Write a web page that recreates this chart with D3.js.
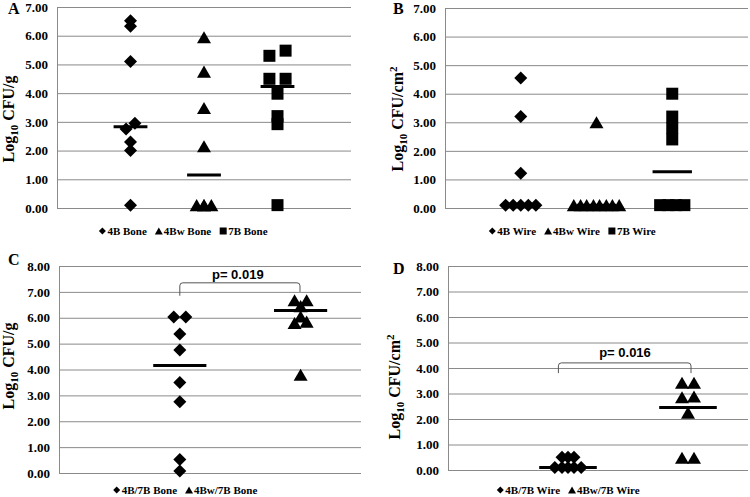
<!DOCTYPE html>
<html>
<head>
<meta charset="utf-8">
<script src="https://cdn.jsdelivr.net/npm/d3@7"></script>
<style>
body { margin: 0; background: #fff; }
svg { display: block; font-family: "Liberation Serif", "Times New Roman", serif; }
</style>
</head>
<body>
<script>
// A: bone counts (log10 CFU/g), x = group position with small spread
var bone4B = [[1, 6.52], [1, 6.33], [1, 5.1], [1.06, 2.95], [0.94, 2.75], [1, 2.3], [1, 2.0], [1, 0.1]];
var bone4Bw = [[2, 5.95], [2, 4.75], [2, 3.48], [2, 2.15], [1.9, 0.1], [2, 0.1], [2, 0.1], [2.1, 0.1]];
var bone7B = [[2.89, 5.3], [3.11, 5.48], [2.89, 4.5], [3.11, 4.5], [3, 3.98], [3, 3.2], [3, 2.92], [3, 0.1]];
var boneMedians = [2.83, 1.15, 4.23];
var boneLegend = ["4B Bone", "4Bw Bone", "7B Bone"];

// B: wire counts (log10 CFU/cm2)
var wire4B = [[1, 4.55], [1, 3.2], [1, 1.22], [0.8, 0.1], [0.9, 0.1], [1, 0.1], [1.1, 0.1], [1.2, 0.1]];
var wire4Bw = [[2, 3.0], [1.7, 0.1], [1.79, 0.1], [1.87, 0.1], [1.96, 0.1], [2.04, 0.1], [2.13, 0.1], [2.21, 0.1], [2.3, 0.1]];
var wire7B = [[3, 4.0], [3, 3.2], [3, 2.8], [3, 2.4], [2.84, 0.1], [2.95, 0.1], [3.05, 0.1], [3.16, 0.1]];
var wireMedians = [0.1, 0.1, 1.27];
var wireLegend = ["4B Wire", "4Bw Wire", "7B Wire"];

// C: co-infection bone
var bone4B7B = [[0.95, 6.03], [1.05, 6.03], [1, 5.37], [1, 4.75], [1, 3.5], [1, 2.75], [1, 0.52], [1, 0.08]];
var bone4Bw7B = [[1.95, 6.68], [2.05, 6.68], [2, 6.45], [2, 6.05], [1.95, 5.8], [2.05, 5.85], [2, 3.8]];
var coBoneMedians = [4.15, 6.28];
var coBoneLegend = ["4B/7B Bone", "4Bw/7B Bone"];

// D: co-infection wire
var wire4B7B = [[0.95, 0.5], [1, 0.5], [1.05, 0.5], [0.89, 0.1], [0.95, 0.1], [1, 0.1], [1.05, 0.1], [1.11, 0.1]];
var wire4Bw7B = [[1.95, 3.42], [2.05, 3.42], [1.95, 2.85], [2.05, 2.88], [2, 2.25], [1.95, 0.48], [2.05, 0.48]];
var coWireMedians = [0.1, 2.45];
var coWireLegend = ["4B/7B Wire", "4Bw/7B Wire"];

var ticks7 = [0, 1, 2, 3, 4, 5, 6, 7];
var ticks8 = [0, 1, 2, 3, 4, 5, 6, 7, 8];
var pValueC = "p= 0.019";
var pValueD = "p= 0.016";

var svg = d3.select('body').append('svg')
    .attr('width', 750)
    .attr('height', 497);

var markerSize = { diamond: 6.5, triangle: 7, square: 6 };

function markerPath(shape, s) {
    if (shape === 'diamond') return 'M0,' + (-s) + 'L' + s + ',0L0,' + s + 'L' + (-s) + ',0Z';
    if (shape === 'triangle') return 'M0,' + (-s * 0.86) + 'L' + s + ',' + (s * 0.86) + 'L' + (-s) + ',' + (s * 0.86) + 'Z';
    return 'M' + (-s) + ',' + (-s) + 'H' + s + 'V' + s + 'H' + (-s) + 'Z';
}

var panels = [
    { letter: 'A', letterX: 8, letterY: 14, series: [bone4B, bone4Bw, bone7B], shapes: ['diamond', 'triangle', 'square'],
      medians: boneMedians, legend: boneLegend, ticks: ticks7, xMax: 4, yMax: 7,
      left: 57, right: 351, top: 7, bottom: 208, half: 0.23,
      title: 'g', titleX: 14, titleY: 119, legendX: 183, legendY: 231 },
    { letter: 'B', letterX: 393, letterY: 14, series: [wire4B, wire4Bw, wire7B], shapes: ['diamond', 'triangle', 'square'],
      medians: wireMedians, legend: wireLegend, ticks: ticks7, xMax: 4, yMax: 7,
      left: 445, right: 748, top: 8, bottom: 208, half: 0.26,
      title: 'cm2', titleX: 403, titleY: 119, legendX: 572, legendY: 231 },
    { letter: 'C', letterX: 8, letterY: 265, series: [bone4B7B, bone4Bw7B], shapes: ['diamond', 'triangle'],
      medians: coBoneMedians, legend: coBoneLegend, ticks: ticks8, xMax: 2.5, yMax: 8,
      left: 59, right: 361, top: 266, bottom: 473, half: 0.22,
      title: 'g', titleX: 14, titleY: 366, legendX: 185, legendY: 490,
      bracket: { x1: 1, x2: 1.995, top: 7.35, y1: 6.85, y2: 7.0, label: pValueC, lx: 1.48, ly: 7.5 } },
    { letter: 'D', letterX: 393, letterY: 274, series: [wire4B7B, wire4Bw7B], shapes: ['diamond', 'triangle'],
      medians: coWireMedians, legend: coWireLegend, ticks: ticks8, xMax: 2.5, yMax: 8,
      left: 448, right: 748, top: 266, bottom: 470, half: 0.24,
      title: 'cm2', titleX: 400, titleY: 387, legendX: 568, legendY: 490,
      bracket: { x1: 0.92, x2: 2.025, top: 4.2, y1: 3.8, y2: 3.8, label: pValueD, lx: 1.475, ly: 4.44 } }
];

function drawPanel(p) {
    var x = d3.scaleLinear().domain([0, p.xMax]).range([p.left, p.right]);
    var y = d3.scaleLinear().domain([0, p.yMax]).range([p.bottom, p.top]);
    var g = svg.append('g');

    var axis = g.append('g')
        .attr('transform', 'translate(' + p.left + ',0)')
        .call(d3.axisLeft(y)
            .tickValues(p.ticks)
            .tickSizeInner(-(p.right - p.left))
            .tickSizeOuter(0)
            .tickPadding(9)
            .tickFormat(function (d) { return d.toFixed(2); }));
    axis.selectAll('path, line').attr('stroke', '#8a8a8a').attr('stroke-width', 1);
    axis.selectAll('text')
        .attr('fill', '#000')
        .style('font-family', '"Liberation Serif", serif')
        .style('font-weight', 'bold')
        .style('font-size', '13px');

    // panel letter
    g.append('text')
        .attr('x', p.letterX)
        .attr('y', p.letterY)
        .style('font-weight', 'bold')
        .style('font-size', '16px')
        .text(p.letter);

    // y title
    var t = g.append('text')
        .attr('transform', 'translate(' + p.titleX + ',' + p.titleY + ') rotate(-90)')
        .attr('text-anchor', 'middle')
        .style('font-weight', 'bold')
        .style('font-size', '16px');
    t.append('tspan').text('Log');
    t.append('tspan').attr('dy', 4).style('font-size', '11px').text('10');
    if (p.title === 'g') {
        t.append('tspan').attr('dy', -4).text(' CFU/g');
    } else {
        t.append('tspan').attr('dy', -4).text(' CFU/cm');
        t.append('tspan').attr('dy', -6).style('font-size', '11px').text('2');
    }

    // median lines
    g.selectAll('.median')
        .data(p.medians)
        .enter().append('line')
        .attr('x1', function (d, i) { return x(i + 1 - p.half); })
        .attr('x2', function (d, i) { return x(i + 1 + p.half); })
        .attr('y1', function (d) { return y(d); })
        .attr('y2', function (d) { return y(d); })
        .attr('stroke', '#000')
        .attr('stroke-width', 3);

    // points
    p.series.forEach(function (s, i) {
        g.selectAll(null)
            .data(s)
            .enter().append('path')
            .attr('transform', function (d) { return 'translate(' + x(d[0]) + ',' + y(d[1]) + ')'; })
            .attr('d', markerPath(p.shapes[i], markerSize[p.shapes[i]]))
            .attr('fill', '#000');
    });

    // significance bracket
    if (p.bracket) {
        var b = p.bracket, r = 3;
        var bx1 = x(b.x1), bx2 = x(b.x2), by = y(b.top);
        g.append('path')
            .attr('d', 'M' + bx1 + ',' + y(b.y1) + 'V' + (by + r) + 'Q' + bx1 + ',' + by + ' ' + (bx1 + r) + ',' + by +
                'H' + (bx2 - r) + 'Q' + bx2 + ',' + by + ' ' + bx2 + ',' + (by + r) + 'V' + y(b.y2))
            .attr('fill', 'none')
            .attr('stroke', '#555')
            .attr('stroke-width', 1);
        g.append('text')
            .attr('x', x(b.lx))
            .attr('y', y(b.ly))
            .attr('text-anchor', 'middle')
            .style('font-family', '"Liberation Sans", Arial, sans-serif')
            .style('font-weight', 'bold')
            .style('font-size', '13px')
            .text(b.label);
    }

    // legend
    var lg = g.append('g');
    var cx = 0;
    p.legend.forEach(function (name, i) {
        var item = lg.append('g').attr('transform', 'translate(' + cx + ',0)');
        item.append('path')
            .attr('transform', 'translate(4,-4)')
            .attr('d', markerPath(p.shapes[i], p.shapes[i] === 'triangle' ? 4 : 3.5))
            .attr('fill', '#000');
        var tx = item.append('text')
            .attr('x', 9)
            .attr('y', 0)
            .style('font-weight', 'bold')
            .style('font-size', '11px')
            .text(name);
        cx += 9 + tx.node().getComputedTextLength() + 8;
    });
    var lw = cx - 8;
    lg.attr('transform', 'translate(' + (p.legendX - lw / 2) + ',' + (p.legendY + 4) + ')');
}

panels.forEach(drawPanel);
</script>
</body>
</html>
